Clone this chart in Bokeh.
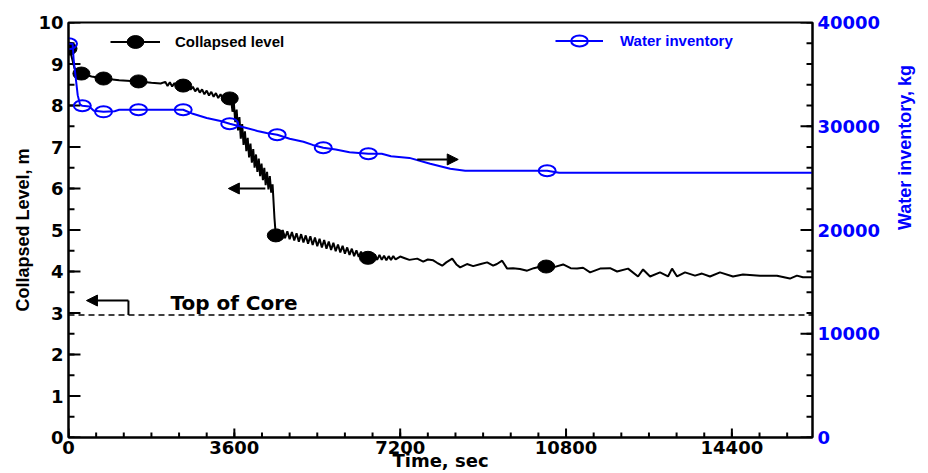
import math
from bokeh.plotting import figure
from bokeh.models import (Range1d, LinearAxis, FixedTicker, Arrow, NormalHead, Label,
                          Legend, LegendItem, Span, BasicTickFormatter)
from bokeh.embed import file_html
from bokeh.resources import INLINE

# ---------------- data ----------------
time_level = [
    0, 40, 130, 280, 500, 760, 1100, 1520, 1800, 2000,
    2100, 2150, 2200, 2250, 2300, 2350, 2400, 2490, 2550, 2600, 2650, 2700, 2750, 2800,
    2850, 2900, 2950, 3000, 3050, 3100, 3150, 3200, 3250, 3300, 3350, 3400, 3450, 3500,
    3530, 3560, 3590, 3620, 3650, 3680, 3710, 3740, 3770, 3800, 3830, 3860, 3890, 3920,
    3950, 3980, 4010, 4040, 4070, 4100, 4130, 4160, 4190, 4220, 4250, 4280, 4310, 4340,
    4370, 4400, 4430, 4470, 4500,
    4550, 4600, 4650, 4700, 4750, 4800, 4850, 4900, 4950, 5000, 5050, 5100, 5150, 5200,
    5250, 5300, 5350, 5400, 5450, 5500, 5550, 5600, 5650, 5700, 5750, 5800, 5850, 5900,
    5950, 6000, 6050, 6100, 6150, 6200, 6250, 6300, 6350, 6400, 6450, 6500, 6550, 6600,
    6650, 6700, 6750, 6800, 6850, 6900, 6950, 7000, 7050, 7100, 7200, 7300,
    7400, 7570, 7700, 7800, 7917, 8000, 8112, 8200, 8329, 8420,
    8502, 8650, 8784, 8950, 9088, 9218, 9300, 9413, 9522, 9650,
    9800, 9956, 10100, 10250, 10368, 10520, 10737, 10900, 11040, 11170,
    11322, 11539, 11756, 11908, 12146, 12363, 12472, 12624, 12840, 13014,
    13101, 13210, 13383, 13600, 13751, 13925, 14142, 14424, 14641, 15010,
    15379, 15660, 15812, 15942, 16150,
]
level_m = [
    9.37, 9.30, 8.90, 8.77, 8.70, 8.65, 8.61, 8.58, 8.55, 8.53,
    8.57, 8.47, 8.56, 8.46, 8.54, 8.45, 8.53, 8.48, 8.42, 8.48, 8.38, 8.45, 8.34, 8.42,
    8.31, 8.39, 8.27, 8.36, 8.24, 8.33, 8.21, 8.30, 8.18, 8.27, 8.16, 8.25, 8.13, 8.17,
    8.15, 7.85, 8.05, 7.60, 7.90, 7.40, 7.72, 7.20, 7.55, 7.05, 7.38, 6.90, 7.22, 6.75,
    7.08, 6.62, 6.95, 6.50, 6.82, 6.40, 6.72, 6.30, 6.60, 6.20, 6.50, 6.08, 6.40, 5.98,
    6.30, 5.90, 6.10, 5.30, 4.87,
    5.02, 4.82, 5.00, 4.80, 4.97, 4.78, 4.95, 4.75, 4.92, 4.72, 4.90, 4.70, 4.87, 4.67,
    4.85, 4.64, 4.82, 4.61, 4.79, 4.58, 4.76, 4.55, 4.72, 4.52, 4.69, 4.49, 4.65, 4.46,
    4.62, 4.43, 4.58, 4.40, 4.55, 4.37, 4.51, 4.35, 4.48, 4.33, 4.45, 4.30, 4.43, 4.29,
    4.41, 4.28, 4.40, 4.28, 4.38, 4.27, 4.37, 4.28, 4.37, 4.29, 4.36, 4.32,
    4.28, 4.31, 4.24, 4.29, 4.27, 4.21, 4.14, 4.22, 4.31, 4.17,
    4.10, 4.18, 4.13, 4.18, 4.22, 4.14, 4.18, 4.26, 4.07, 4.08,
    4.06, 4.02, 4.08, 4.12, 4.12, 4.10, 4.17, 4.08, 4.07, 4.09,
    3.98, 4.07, 4.08, 4.00, 4.07, 3.88, 4.05, 3.88, 3.98, 3.88,
    4.07, 3.88, 3.98, 3.90, 3.95, 3.88, 3.98, 3.88, 3.93, 3.90,
    3.90, 3.83, 3.90, 3.86, 3.86,
]
level_marker_time = [0, 280, 760, 1520, 2490, 3500, 4500, 6500, 10370]
level_marker_m = [9.37, 8.77, 8.65, 8.58, 8.48, 8.17, 4.87, 4.33, 4.12]

time_inv = [
    0, 90, 110, 200, 250, 300, 450, 550, 760, 1000, 1100, 1520, 2490, 2700, 3000,
    3300, 3500, 3800, 4100, 4300, 4530, 4800, 5100, 5300, 5530, 5800, 6100, 6510,
    6800, 7000, 7400, 7852, 8286, 8611, 10390, 10650, 16150,
]
inventory_kg = [
    37950, 37950, 36500, 33000, 32100, 31970, 31900, 31500, 31390, 31450, 31590, 31590,
    31590, 31200, 30800, 30500, 30240, 29900, 29550, 29350, 29180, 28800, 28500, 28200,
    27930, 27750, 27500, 27350, 27350, 27100, 26950, 26390, 25900, 25710, 25710, 25520,
    25520,
]
inv_marker_time = [0, 300, 760, 1520, 2490, 3500, 4530, 5530, 6510, 10390]
inv_marker_kg = [37950, 31970, 31390, 31590, 31590, 30240, 29180, 27930, 27350, 25710]

x_ticks = [0, 3600, 7200, 10800, 14400]
y_ticks = [0, 1, 2, 3, 4, 5, 6, 7, 8, 9, 10]
y2_ticks = [0, 10000, 20000, 30000, 40000]
top_of_core_m = 2.95

BLUE = "#0000ff"
X_MAX = 16150
Y_MAX = 10
Y2_MAX = 40000
x_minor = list(range(0, X_MAX + 1, 600))
y_minor = [i * 0.5 for i in range(21)]
y2_minor = list(range(0, Y2_MAX + 1, 2000))

W, H = 928, 473
BL, BR, BT, BB = 68, 115, 22, 36
FRAME_W = W - BL - BR
FRAME_H = H - BT - BB

p = figure(width=W, height=H, x_range=Range1d(0, X_MAX), y_range=Range1d(0, Y_MAX),
           output_backend="svg", toolbar_location=None,
           min_border_left=BL, min_border_right=BR, min_border_top=BT, min_border_bottom=BB)
p.extra_y_ranges = {"inv": Range1d(0, Y2_MAX)}
p.grid.visible = False
p.outline_line_color = "black"
p.outline_line_width = 2
p.background_fill_color = "white"
p.border_fill_color = "white"

p.xaxis.ticker = FixedTicker(ticks=x_ticks, minor_ticks=x_minor)
p.yaxis.ticker = FixedTicker(ticks=y_ticks, minor_ticks=y_minor)
raxis = LinearAxis(y_range_name="inv",
                   ticker=FixedTicker(ticks=y2_ticks, minor_ticks=y2_minor),
                   formatter=BasicTickFormatter(use_scientific=False))
p.add_layout(raxis, "right")

for ax in [p.xaxis[0], p.yaxis[0], raxis]:
    ax.axis_line_width = 2
    ax.axis_line_color = "black"
    ax.major_tick_out = 0
    ax.minor_tick_out = 0
    ax.major_tick_in = 0
    ax.minor_tick_in = 0
    ax.major_label_text_font = "DejaVu Sans"
    ax.major_label_text_font_style = "bold"
    ax.major_label_text_font_size = "18px"
    ax.major_label_text_color = "black"
    ax.major_label_standoff = 5
    ax.axis_label_text_font_style = "bold"
p.xaxis[0].major_label_standoff = 3
raxis.major_label_text_color = BLUE
raxis.major_label_text_font_size = "18px"

# axis titles
p.yaxis[0].axis_label = "Collapsed Level, m"
p.yaxis[0].axis_label_text_font = "Liberation Sans"
p.yaxis[0].axis_label_text_font_size = "18px"
p.yaxis[0].axis_label_text_color = "black"
p.yaxis[0].axis_label_standoff = 2

raxis.axis_label = "Water inventory, kg"
raxis.axis_label_text_font = "Liberation Sans"
raxis.axis_label_text_font_size = "18px"
raxis.axis_label_text_color = BLUE
raxis.axis_label_standoff = 22
if "axis_label_orientation" in raxis.properties():
    raxis.axis_label_orientation = math.pi / 2

p.xaxis[0].axis_label = "Time, sec"
p.xaxis[0].axis_label_text_font = "DejaVu Sans"
p.xaxis[0].axis_label_text_font_size = "18px"
p.xaxis[0].axis_label_text_color = "black"
p.xaxis[0].axis_label_standoff = -7

# inward tick marks, placed at the tick lists through the plot scales
dx12 = 12 * X_MAX / FRAME_W
dx6 = 6 * X_MAX / FRAME_W
dy9 = 9 * Y_MAX / FRAME_H
dy5 = 5 * Y_MAX / FRAME_H
tick_style = dict(line_color="black", line_width=2)
p.segment(x0=0, y0=y_ticks, x1=dx12, y1=y_ticks, **tick_style)
p.segment(x0=0, y0=y_minor, x1=dx6, y1=y_minor, **tick_style)
p.segment(x0=x_ticks, y0=0, x1=x_ticks, y1=dy9, **tick_style)
p.segment(x0=x_minor, y0=0, x1=x_minor, y1=dy5, **tick_style)
p.segment(x0=X_MAX, y0=y2_ticks, x1=X_MAX - dx12, y1=y2_ticks, y_range_name="inv", **tick_style)
p.segment(x0=X_MAX, y0=y2_minor, x1=X_MAX - dx6, y1=y2_minor, y_range_name="inv", **tick_style)

# ---------------- glyphs ----------------
top_span = Span(location=top_of_core_m, dimension="width", line_color="black",
                line_dash="6 4", line_width=1.5)
p.add_layout(top_span)

black_line = p.line(time_level, level_m, line_color="black", line_width=2)
black_pts = p.ellipse(level_marker_time, level_marker_m, width=17, height=13,
                      width_units="screen", height_units="screen",
                      fill_color="black", line_color="black", line_width=1)

blue_line = p.line(time_inv, inventory_kg, line_color=BLUE, line_width=2, y_range_name="inv")
blue_pts = p.ellipse(inv_marker_time, inv_marker_kg, width=17, height=11,
                     width_units="screen", height_units="screen",
                     fill_alpha=0, line_color=BLUE, line_width=2, y_range_name="inv")

# ---------------- legends ----------------
leg1 = Legend(items=[LegendItem(label="Collapsed level", renderers=[black_line, black_pts])],
              location=(42, 385), glyph_width=50, glyph_height=21, label_standoff=15,
              padding=0, margin=0, border_line_alpha=0, background_fill_alpha=0,
              label_text_font="Liberation Sans", label_text_font_style="bold",
              label_text_font_size="15px", label_text_color="black", label_height=21)
leg2 = Legend(items=[LegendItem(label="Water inventory", renderers=[blue_line, blue_pts])],
              location=(487, 386), glyph_width=48, glyph_height=21, label_standoff=17,
              padding=0, margin=0, border_line_alpha=0, background_fill_alpha=0,
              label_text_font="Liberation Sans", label_text_font_style="bold",
              label_text_font_size="15px", label_text_color=BLUE, label_height=21)
p.add_layout(leg1)
p.add_layout(leg2)

# ---------------- annotations ----------------
p.add_layout(Arrow(end=NormalHead(size=11, fill_color="black", line_color="black"),
                   x_start=4273, y_start=6.0, x_end=3470, y_end=6.0,
                   line_color="black", line_width=2))
p.add_layout(Arrow(end=NormalHead(size=11, fill_color="black", line_color="black"),
                   x_start=7570, y_start=6.70, x_end=8460, y_end=6.70,
                   line_color="black", line_width=2))
p.add_layout(Arrow(end=NormalHead(size=11, fill_color="black", line_color="black"),
                   x_start=1301, y_start=3.30, x_end=390, y_end=3.30,
                   line_color="black", line_width=2))
p.add_layout(Arrow(end=None, x_start=1301, y_start=3.30, x_end=1301, y_end=top_of_core_m,
                   line_color="black", line_width=2))

p.add_layout(Label(x=2212, y=3.23, text="Top of Core", text_align="left",
                   text_baseline="middle", text_font="DejaVu Sans", text_font_style="bold",
                   text_font_size="20px", text_color="black"))

open("out.html", "w").write(file_html(p, INLINE))
